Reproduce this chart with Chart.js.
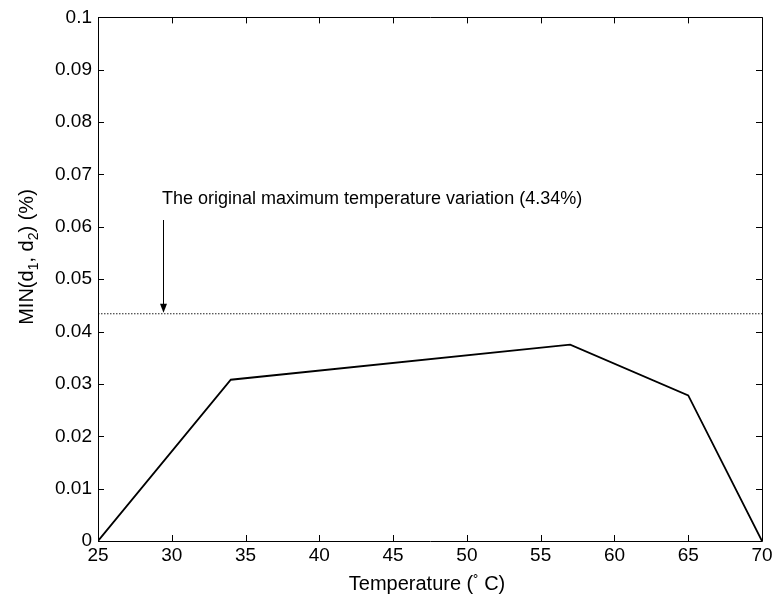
<!DOCTYPE html>
<html>
<head>
<meta charset="utf-8">
<script src="https://cdn.jsdelivr.net/npm/chart.js@4/dist/chart.umd.min.js"></script>
<style>
  html, body { margin: 0; padding: 0; background: #fff; }
  #wrap { width: 777px; height: 603px; }
</style>
</head>
<body>
<div id="wrap"><canvas id="c" width="777" height="603"></canvas></div>
<script>
// Minimum distance vs. temperature
const temperatures = [25, 34, 57, 65, 70];
const minDistance = [0, 0.0308, 0.0375, 0.0278, 0];

// Reference level: original maximum temperature variation
const referenceLevel = 0.0434;
const referenceSpan = [25, 70];
const annotationText = 'The original maximum temperature variation (4.34%)';
const arrowAt = 29.4;

const xTickValues = [25, 30, 35, 40, 45, 50, 55, 60, 65, 70];
const xTickLabels = ['25', '30', '35', '40', '45', '50', '55', '60', '65', '70'];
const yTickValues = [0, 0.01, 0.02, 0.03, 0.04, 0.05, 0.06, 0.07, 0.08, 0.09, 0.1];
const yTickLabels = ['0', '0.01', '0.02', '0.03', '0.04', '0.05', '0.06', '0.07', '0.08', '0.09', '0.1'];

const FONT = '"Liberation Sans", Arial, Helvetica, sans-serif';

// Boxed axes with inward ticks on all four sides, axis titles with sub/superscripts,
// and the labelled arrow pointing at the reference line.
const framePlugin = {
  id: 'frame',
  afterDraw(chart) {
    const ctx = chart.ctx;
    const a = chart.chartArea;
    const xs = chart.scales.x, ys = chart.scales.y;
    ctx.save();
    ctx.strokeStyle = '#000';
    ctx.lineWidth = 1;
    ctx.beginPath();
    ctx.rect(Math.round(a.left) + 0.5, Math.round(a.top) + 0.5,
             Math.round(a.right - a.left), Math.round(a.bottom - a.top));
    ctx.stroke();
    const tl = 6;
    ctx.beginPath();
    xTickValues.forEach(v => {
      const px = Math.round(xs.getPixelForValue(v)) + 0.5;
      ctx.moveTo(px, a.bottom); ctx.lineTo(px, a.bottom - tl);
      ctx.moveTo(px, a.top); ctx.lineTo(px, a.top + tl);
    });
    yTickValues.forEach(v => {
      const py = Math.round(ys.getPixelForValue(v)) + 0.5;
      ctx.moveTo(a.left, py); ctx.lineTo(a.left + tl, py);
      ctx.moveTo(a.right, py); ctx.lineTo(a.right - tl, py);
    });
    ctx.stroke();

    // annotation text and arrow
    const ax = Math.round(xs.getPixelForValue(arrowAt)) + 0.5;
    const ay = ys.getPixelForValue(referenceLevel);
    ctx.fillStyle = '#000';
    ctx.font = '18px ' + FONT;
    ctx.textAlign = 'left';
    ctx.textBaseline = 'alphabetic';
    ctx.fillText(annotationText, 162, 204);
    ctx.beginPath();
    ctx.moveTo(ax, 220);
    ctx.lineTo(ax, ay - 8);
    ctx.stroke();
    ctx.beginPath();
    ctx.moveTo(ax - 3.5, ay - 10);
    ctx.lineTo(ax + 3.5, ay - 10);
    ctx.lineTo(ax, ay - 1);
    ctx.closePath();
    ctx.fill();

    const drawRuns = (runs, x, y) => {
      let w = 0;
      runs.forEach(r => { ctx.font = r.size + 'px ' + FONT; w += ctx.measureText(r.t).width; });
      let cx = x - w / 2;
      ctx.textAlign = 'left';
      runs.forEach(r => {
        ctx.font = r.size + 'px ' + FONT;
        ctx.fillText(r.t, cx, y + (r.dy || 0));
        cx += ctx.measureText(r.t).width;
      });
    };

    // x-axis title: Temperature (° C)
    drawRuns([
      { t: 'Temperature (', size: 20 },
      { t: '\u02DA', size: 16, dy: -3 },
      { t: ' C)', size: 20 }
    ], (a.left + a.right) / 2 - 3, 590);

    // y-axis title: MIN(d1, d2) (%)
    ctx.save();
    ctx.translate(33, 257);
    ctx.rotate(-Math.PI / 2);
    drawRuns([
      { t: 'MIN(d', size: 20 },
      { t: '1', size: 14, dy: 5 },
      { t: ', d', size: 20 },
      { t: '2', size: 14, dy: 5 },
      { t: ') (%)', size: 20 }
    ], 0, 0);
    ctx.restore();
    ctx.restore();
  }
};

new Chart(document.getElementById('c'), {
  type: 'line',
  data: {
    datasets: [
      {
        data: temperatures.map((t, i) => ({ x: t, y: minDistance[i] })),
        borderColor: '#000',
        borderWidth: 1.8,
        pointRadius: 0,
        tension: 0,
        fill: false
      },
      {
        data: referenceSpan.map(t => ({ x: t, y: referenceLevel })),
        borderColor: '#222',
        borderWidth: 1,
        borderDash: [1.5, 1.5],
        pointRadius: 0,
        fill: false
      }
    ]
  },
  options: {
    responsive: false,
    animation: false,
    devicePixelRatio: 1,
    layout: { padding: { top: 14, right: 15, left: 0, bottom: 0 } },
    plugins: { legend: { display: false }, tooltip: { enabled: false }, title: { display: false } },
    scales: {
      x: {
        type: 'linear',
        min: 25, max: 70,
        afterBuildTicks: s => { s.ticks = xTickValues.map(v => ({ value: v })); },
        afterFit: s => { s.height = 62; },
        grid: { display: false, drawTicks: false },
        border: { display: false },
        ticks: {
          color: '#000',
          font: { family: FONT, size: 19 },
          padding: 3,
          maxRotation: 0,
          autoSkip: false,
          callback: (v) => xTickLabels[xTickValues.indexOf(v)]
        }
      },
      y: {
        type: 'linear',
        min: 0, max: 0.1,
        afterBuildTicks: s => { s.ticks = yTickValues.map(v => ({ value: v })); },
        afterFit: s => { s.width = 98; },
        grid: { display: false, drawTicks: false },
        border: { display: false },
        ticks: {
          color: '#000',
          font: { family: FONT, size: 19 },
          padding: 6,
          autoSkip: false,
          callback: (v) => {
            const i = yTickValues.findIndex(t => Math.abs(t - v) < 1e-9);
            return i >= 0 ? yTickLabels[i] : '';
          }
        }
      }
    }
  },
  plugins: [framePlugin]
});
</script>
</body>
</html>
